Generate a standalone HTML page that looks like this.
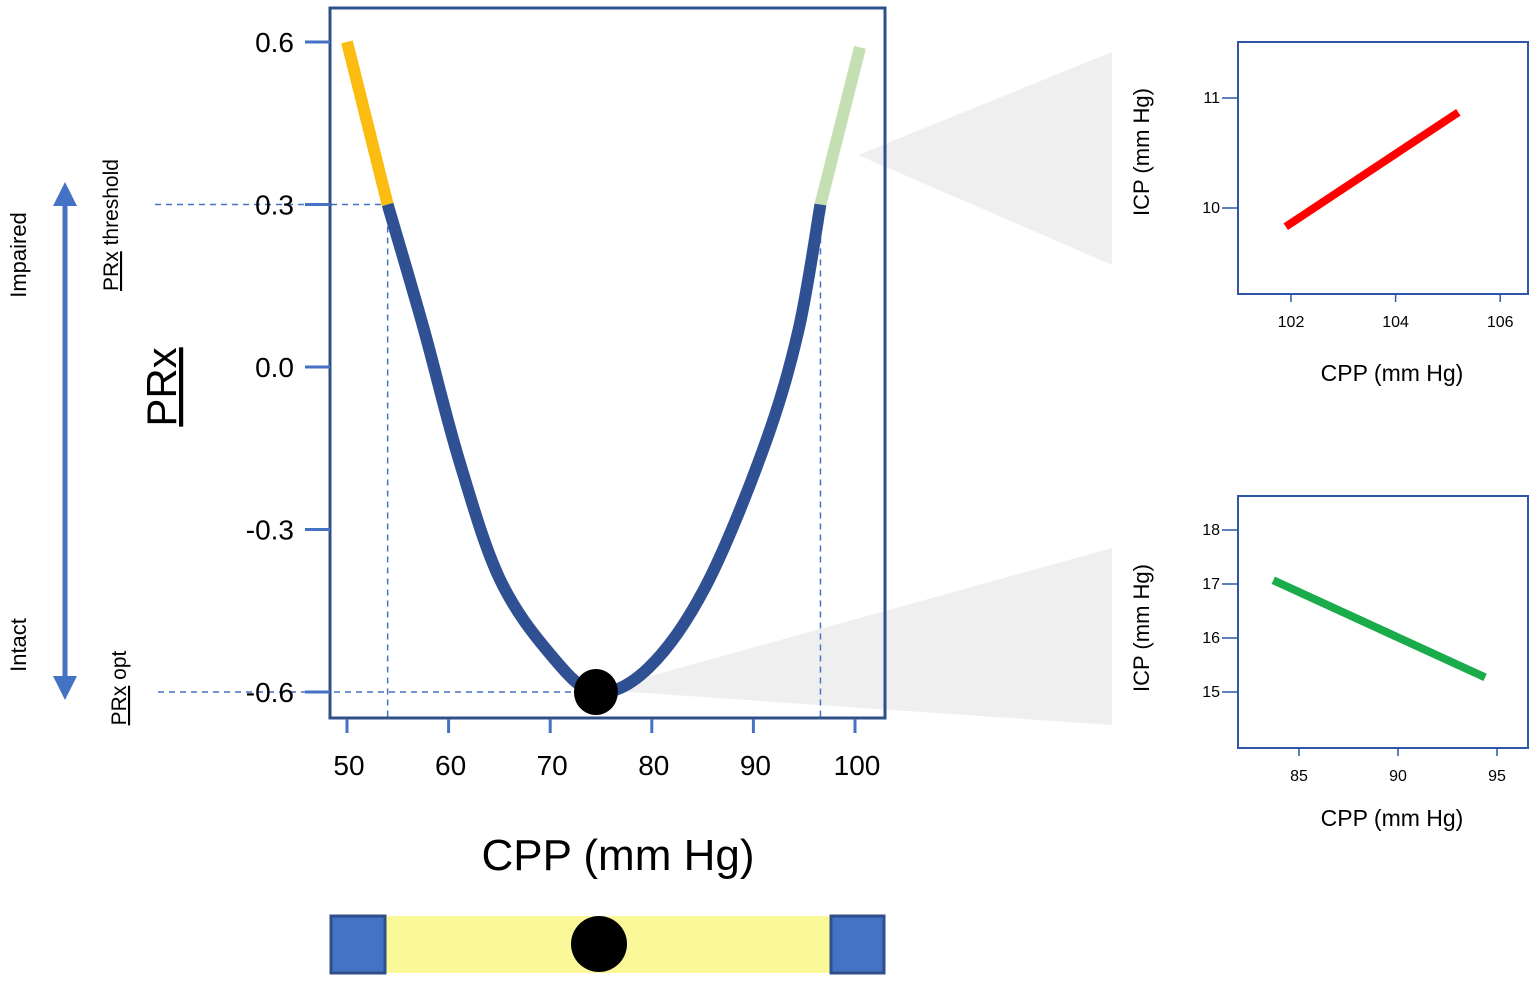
<!DOCTYPE html>
<html><head><meta charset="utf-8"><style>
html,body{margin:0;padding:0;background:#fff;}
svg{display:block;font-family:"Liberation Sans",sans-serif;}
</style></head><body>
<svg id="fig" width="1535" height="982" viewBox="0 0 1535 982">
<polygon points="858,155 1112,52 1112,265" fill="#efefef"/>
<polygon points="600,690 1112,548 1112,725" fill="#efefef"/>
<g id="main"></g>
<g id="left">
  <line x1="65" y1="200" x2="65" y2="682" stroke="#4472c4" stroke-width="5"/>
  <polygon points="65,182 53,206 77,206" fill="#4472c4"/>
  <polygon points="65,700 53,676 77,676" fill="#4472c4"/>
  <text transform="translate(26,255) rotate(-90)" text-anchor="middle" font-size="22">Impaired</text>
  <text transform="translate(26,645) rotate(-90)" text-anchor="middle" font-size="22">Intact</text>
  <text transform="translate(118,225) rotate(-90)" text-anchor="middle" font-size="21"><tspan text-decoration="underline wavy red">PRx</tspan> threshold</text>
  <text transform="translate(126,688) rotate(-90)" text-anchor="middle" font-size="21"><tspan text-decoration="underline wavy red">PRx</tspan> opt</text>
  <text transform="translate(176,387) rotate(-90)" text-anchor="middle" font-size="42" text-decoration="underline wavy red">PRx</text>
</g>
<text x="618" y="870" text-anchor="middle" font-size="44">CPP (mm Hg)</text>
<g id="bar">
  <rect x="330" y="916" width="555" height="57" fill="#fbf89a"/>
  <rect x="331" y="916" width="54" height="57" fill="#4472c4" stroke="#2f4f8a" stroke-width="3"/>
  <rect x="831" y="916" width="53" height="57" fill="#4472c4" stroke="#2f4f8a" stroke-width="3"/>
  <circle cx="599" cy="944" r="28" fill="#000"/>
</g>
<g id="top"></g>
<g id="bot"></g>
</svg>
<script>
const NS='http://www.w3.org/2000/svg';
// main chart data
const yTicks=[0.6,0.3,0.0,-0.3,-0.6];
const yTickLabels=['0.6','0.3','0.0','-0.3','-0.6'];
const xTicks=[50,60,70,80,90,100];
const xTickLabels=['50','60','70','80','90','100'];
const cppYellow=[50.0,54.0];
const prxYellow=[0.6,0.3];
const cppBlue=[54.0,57.5,61.0,65.0,70.0,74.5,79.7,85.3,91.0,94.4,96.6];
const prxBlue=[0.3,0.074,-0.17,-0.39,-0.53,-0.6,-0.555,-0.405,-0.15,0.065,0.3];
const cppGreen=[96.6,100.5];
const prxGreen=[0.3,0.59];
const optCpp=[74.5];
const optPrx=[-0.6];
const thresholdPrx=[0.3];
const thresholdCpp=[54.0,96.6];
// inset top
const topXTicks=[102,104,106];
const topYTicks=[10,11];
const topCpp=[101.9,105.2];
const topIcp=[9.83,10.87];
// inset bottom
const botXTicks=[85,90,95];
const botYTicks=[15,16,17,18];
const botCpp=[83.7,94.4];
const botIcp=[17.07,15.27];

function mk(parent,tag,attrs){const e=document.createElementNS(NS,tag);for(const k in attrs)e.setAttribute(k,attrs[k]);parent.appendChild(e);return e;}
function smooth(pts){let d='M'+pts[0][0]+','+pts[0][1];for(let i=0;i<pts.length-1;i++){const p0=pts[i-1]||pts[i],p1=pts[i],p2=pts[i+1],p3=pts[i+2]||p2;const c1=[p1[0]+(p2[0]-p0[0])/6,p1[1]+(p2[1]-p0[1])/6],c2=[p2[0]-(p3[0]-p1[0])/6,p2[1]-(p3[1]-p1[1])/6];d+=' C'+c1+' '+c2+' '+p2;}return d;}

const X=v=>347+(v-50)*10.16;
const Y=v=>367-v*541.7;
const m=document.getElementById('main');
let e;
const dash={stroke:'#4472c4','stroke-width':1.5,'stroke-dasharray':'6,5'};
e=mk(m,'line',Object.assign({x1:155,y1:Y(thresholdPrx[0]),x2:X(thresholdCpp[0]),y2:Y(thresholdPrx[0])},dash));

thresholdCpp.forEach(c=>{e=mk(m,'line',Object.assign({x1:X(c),y1:Y(thresholdPrx[0]),x2:X(c),y2:718},dash));
});
e=mk(m,'line',Object.assign({x1:158,y1:Y(optPrx[0]),x2:X(optCpp[0]),y2:Y(optPrx[0])},dash));

e=mk(m,'rect',{x:330,y:8,width:555,height:710,fill:'none',stroke:'#2f4f8a','stroke-width':3});

yTicks.forEach((v,i)=>{e=mk(m,'line',{x1:305,x2:330,y1:Y(v),y2:Y(v),stroke:'#4472c4','stroke-width':3});

e=mk(m,'text',{x:294,y:Y(v)+10,'text-anchor':'end','font-size':28});e.textContent=yTickLabels[i];
});
xTicks.forEach((v,i)=>{e=mk(m,'line',{x1:X(v),x2:X(v),y1:719,y2:733,stroke:'#4472c4','stroke-width':3});

e=mk(m,'text',{x:X(v)+2,y:775,'text-anchor':'middle','font-size':28});e.textContent=xTickLabels[i];
});
function series(cs,ps,color,name){const pts=cs.map((c,i)=>[X(c),Y(ps[i])]);e=mk(m,'path',{d:smooth(pts),fill:'none',stroke:color,'stroke-width':12,'stroke-linecap':'butt'});
}
series(cppYellow,prxYellow,'#fbbd12','curve-impaired-low');
series(cppGreen,prxGreen,'#c4e0b2','curve-impaired-high');
series(cppBlue,prxBlue,'#2f5092','curve-intact');
e=mk(m,'ellipse',{cx:X(optCpp[0]),cy:Y(optPrx[0]),rx:22,ry:23,fill:'#000'});


function inset(g,fx,fy,fw,fh,xs,ys,xt,yt,cs,is,color,labY,yLabC){
 e=mk(g,'rect',{x:fx,y:fy,width:fw,height:fh,fill:'none',stroke:'#2f56a8','stroke-width':2});
 
 yt.forEach(v=>{e=mk(g,'line',{x1:fx-16,x2:fx,y1:ys(v),y2:ys(v),stroke:'#2f56a8','stroke-width':1.5});
 
 e=mk(g,'text',{x:fx-18,y:ys(v)+5,'text-anchor':'end','font-size':16});e.textContent=v;
 });
 xt.forEach(v=>{e=mk(g,'line',{x1:xs(v),x2:xs(v),y1:fy+fh,y2:fy+fh+8,stroke:'#2f56a8','stroke-width':1.5});
 
 e=mk(g,'text',{x:xs(v),y:fy+fh+33,'text-anchor':'middle','font-size':16});e.textContent=v;
 });
 e=mk(g,'line',{x1:xs(cs[0]),y1:ys(is[0]),x2:xs(cs[1]),y2:ys(is[1]),stroke:color,'stroke-width':8});
 
 e=mk(g,'text',{x:fx+fw/2+9,y:labY,'text-anchor':'middle','font-size':23});e.textContent='CPP (mm Hg)';
 
 e=mk(g,'text',{transform:'translate(1149,'+yLabC+') rotate(-90)','text-anchor':'middle','font-size':22});e.textContent='ICP (mm Hg)';
 
}
inset(document.getElementById('top'),1238,42,290,252,v=>1291+(v-102)*52.3,v=>208-(v-10)*110,topXTicks,topYTicks,topCpp,topIcp,'#ff0000',381,152);
inset(document.getElementById('bot'),1238,496,290,252,v=>1299+(v-85)*19.8,v=>692-(v-15)*54,botXTicks,botYTicks,botCpp,botIcp,'#1aab4a',826,628);
</script>
</body></html>
